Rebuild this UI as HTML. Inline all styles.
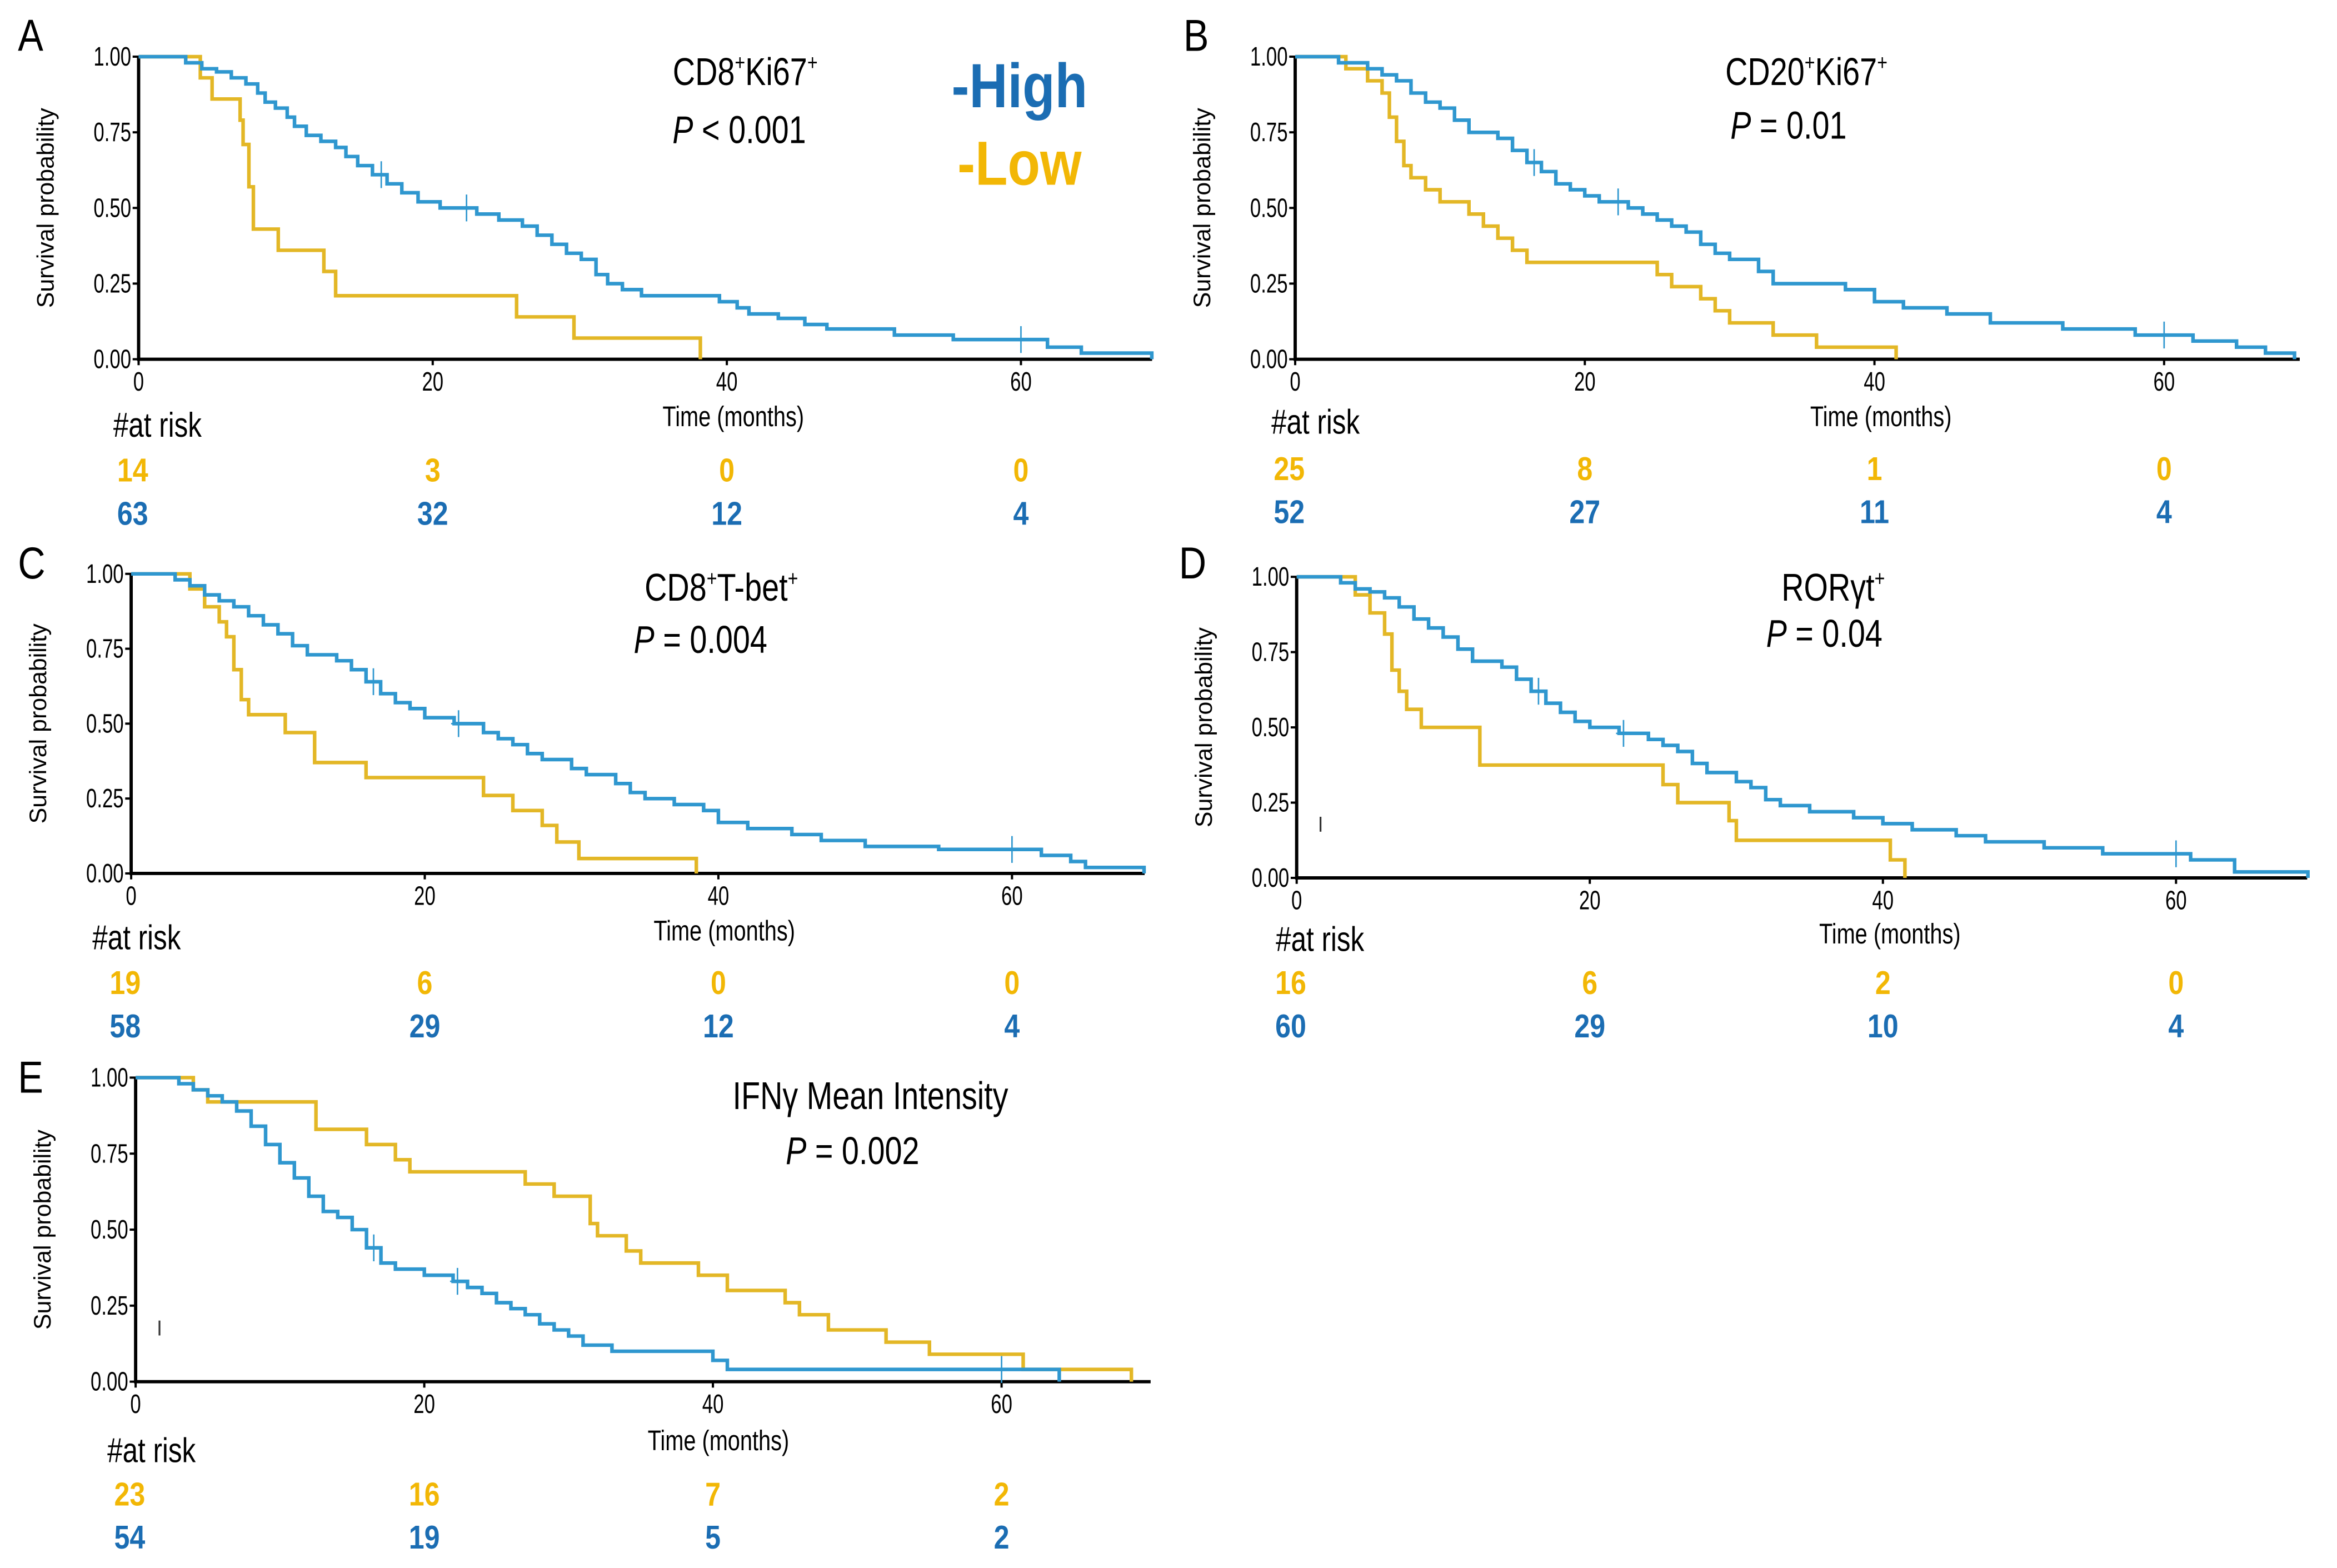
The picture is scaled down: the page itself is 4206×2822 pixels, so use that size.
<!DOCTYPE html>
<html><head><meta charset="utf-8"><style>
html,body{margin:0;padding:0;background:#fff;}
svg{display:block;}
text{font-family:"Liberation Sans Narrow","Liberation Sans",sans-serif;}
</style></head><body>
<svg id="fig" width="4206" height="2822" viewBox="0 0 1568 1052" xmlns="http://www.w3.org/2000/svg"></svg>
<script>
const BLUE='#2f97cf', YEL='#e3b726', BT='#1b6db3', YT='#f2b705';
// Panel A data
const aHighT=[3.2,4.3,5.3,6.3,7.3,8.1,8.6,9.3,10.1,10.6,11.4,12.4,13.4,14.1,14.9,15.9,16.9,17.9,19.0,20.5,23.0,24.5,26.1,27.1,28.1,29.1,30.1,31.1,31.9,32.9,34.2,39.5,40.7,41.5,43.5,45.3,46.8,51.4,55.4,61.8,64.1,68.9];
const aHighS=[0.98,0.96,0.95,0.93,0.91,0.88,0.85,0.83,0.80,0.77,0.74,0.72,0.70,0.67,0.64,0.61,0.58,0.55,0.52,0.50,0.48,0.46,0.44,0.41,0.38,0.35,0.33,0.28,0.25,0.23,0.21,0.19,0.17,0.15,0.135,0.115,0.10,0.08,0.065,0.04,0.02,0];
const aLowT=[4.2,5.0,6.9,7.1,7.5,7.8,9.5,12.6,13.4,25.7,29.6,38.2];
const aLowS=[0.93,0.86,0.79,0.71,0.57,0.43,0.36,0.29,0.21,0.14,0.07,0];
// Panel B data
const bHighT=[3,5,6,7,8,9,10,11,12,14,15,16,17,18,19,20,21,23,24,25,26,27,28,29,30,32,33,38,40,42,45,48,53,58,62,65,67,69];
const bHighS=[0.98,0.96,0.94,0.92,0.88,0.85,0.83,0.79,0.75,0.73,0.69,0.65,0.62,0.58,0.56,0.54,0.52,0.50,0.48,0.46,0.44,0.42,0.38,0.35,0.33,0.29,0.25,0.23,0.19,0.17,0.15,0.12,0.10,0.08,0.06,0.04,0.02,0];
const bLowT=[3.5,5,6,6.5,7,7.5,8,9,10,12,13,14,15,16,25,26,28,29,30,33,36,41.5];
const bLowS=[0.96,0.92,0.88,0.80,0.72,0.64,0.60,0.56,0.52,0.48,0.44,0.40,0.36,0.32,0.28,0.24,0.20,0.16,0.12,0.08,0.04,0];
// Panel C data
const cHighT=[3,4,5,6,7,8,9,10,11,12,14,15,16,17,18,19,20,22,24,25,26,27,28,30,31,33,34,35,37,39,40,42,45,47,50,55,62,64,65,69];
const cHighS=[0.98,0.96,0.93,0.91,0.89,0.86,0.83,0.80,0.76,0.73,0.71,0.68,0.64,0.60,0.57,0.55,0.52,0.50,0.47,0.45,0.43,0.40,0.38,0.35,0.33,0.30,0.27,0.25,0.23,0.21,0.17,0.15,0.13,0.11,0.09,0.08,0.06,0.04,0.02,0];
const cLowT=[4,5,6,6.5,7,7.5,8,10.5,12.5,16,24,26,28,29,30.5,38.5];
const cLowS=[0.95,0.89,0.84,0.79,0.68,0.58,0.53,0.47,0.37,0.32,0.26,0.21,0.16,0.105,0.05,0];
// Panel D data
const dHighT=[3,4,5,6,7,8,9,10,11,12,14,15,16,17,18,19,20,22,24,25,26,27,28,30,31,32,33,35,38,40,42,45,47,51,55,61,64,69];
const dHighS=[0.98,0.96,0.95,0.93,0.90,0.86,0.83,0.80,0.76,0.72,0.70,0.66,0.62,0.58,0.55,0.52,0.50,0.48,0.46,0.44,0.42,0.38,0.35,0.32,0.30,0.26,0.24,0.22,0.20,0.18,0.16,0.14,0.12,0.10,0.08,0.06,0.02,0];
const dLowT=[4,5,6,6.5,7,7.5,8.5,12.5,25,26,29.5,30,40.5,41.5];
const dLowS=[0.94,0.88,0.81,0.69,0.62,0.56,0.50,0.375,0.31,0.25,0.19,0.125,0.06,0];
// Panel E data
const eHighT=[3,4,5,6,7,8,9,10,11,12,13,14,15,16,17,18,20,22,23,24,25,26,27,28,29,30,31,33,40,41,64];
const eHighS=[0.98,0.96,0.94,0.92,0.89,0.84,0.78,0.72,0.67,0.61,0.56,0.54,0.50,0.44,0.39,0.37,0.35,0.33,0.31,0.29,0.26,0.24,0.22,0.19,0.17,0.15,0.12,0.10,0.07,0.04,0];
const eLowT=[4,5,12.5,16,18,19,27,29,31.5,32,34,35,39,41,45,46,48,52,55,61.5,69];
const eLowS=[0.96,0.92,0.83,0.78,0.73,0.69,0.65,0.61,0.52,0.48,0.43,0.39,0.35,0.30,0.26,0.22,0.17,0.13,0.09,0.04,0];
const censorT=[16.5,22.3,60];
const xTicks=[0,20,40,60];
const yTicks=[0,0.25,0.5,0.75,1];
const yTickLabels=['0.00','0.25','0.50','0.75','1.00'];

const svg=document.getElementById('fig');
const NS='http://www.w3.org/2000/svg';
function mk(tag,attrs,parent){const e=document.createElementNS(NS,tag);for(const k in attrs)e.setAttribute(k,attrs[k]);(parent||svg).appendChild(e);return e;}
// condensed text: placed via transform with horizontal squeeze
function txt(x,y,s,size,opts,parent,sx){
  const o=Object.assign({x:0,y:0,'font-size':size,transform:'translate('+x+','+y+') scale('+(sx||0.8)+',1)'},opts||{});
  const t=mk('text',o,parent);t.textContent=s;return t;}

const panels=[
 {id:'a',L:'A',lx:12,ly:34,x0:93,x60:685,xe:773,y1:38,y0:241,title:'CD8',t2:'Ki67',tx:500,ty:57,p:' < 0.001',px:496,py:96,tmx:492,tmy:286,rx:76,ry:293,r1:323,r2:352,hi:[aHighT,aHighS],lo:[aLowT,aLowS],rl:['14','3','0','0'],rh:['63','32','12','4']},
 {id:'b',L:'B',lx:794,ly:34,x0:869,x60:1452,xe:1543,y1:38,y0:241,title:'CD20',t2:'Ki67',tx:1212,ty:57,p:' = 0.01',px:1200,py:93,tmx:1262,tmy:286,rx:853,ry:291,r1:322,r2:351,hi:[bHighT,bHighS],lo:[bLowT,bLowS],rl:['25','8','1','0'],rh:['52','27','11','4']},
 {id:'c',L:'C',lx:12,ly:388,x0:88,x60:679,xe:768,y1:385,y0:586,title:'CD8',t2:'T-bet',tx:484,ty:403,p:' = 0.004',px:470,py:438,tmx:486,tmy:631,rx:62,ry:637,r1:667,r2:696,hi:[cHighT,cHighS],lo:[cLowT,cLowS],rl:['19','6','0','0'],rh:['58','29','12','4']},
 {id:'d',L:'D',lx:791,ly:388,x0:870,x60:1460,xe:1548,y1:387,y0:589,title:'ROR\u03B3t',t2:'',tx:1230,ty:403,p:' = 0.04',px:1224,py:434,tmx:1268,tmy:633,rx:856,ry:638,r1:667,r2:696,hi:[dHighT,dHighS],lo:[dLowT,dLowS],rl:['16','6','2','0'],rh:['60','29','10','4'],mark:[886,553]},
 {id:'e',L:'E',lx:12,ly:733,x0:91,x60:672,xe:772,y1:723,y0:927,title:'IFN\u03B3 Mean Intensity',t2:null,tx:584,ty:744,p:' = 0.002',px:572,py:781,tmx:482,tmy:973,rx:72,ry:981,r1:1010,r2:1039,hi:[eHighT,eHighS],lo:[eLowT,eLowS],rl:['23','16','7','2'],rh:['54','19','5','2'],mark:[107,891]}
];

function stepPath(xs,ys,T,S,end){
  let d='M'+xs(0)+','+ys(1); let prev=1;
  for(let i=0;i<T.length;i++){d+=' H'+xs(T[i]).toFixed(1)+' V'+ys(S[i]).toFixed(1);prev=S[i];}
  if(prev>0) d+=' H'+xs(end).toFixed(1);
  return d;
}
function survAt(T,S,t){let s=1;for(let i=0;i<T.length;i++){if(T[i]<=t)s=S[i];}return s;}

panels.forEach(P=>{
  const g=mk('g',{});
  
  
  const xs=t=>P.x0+(P.x60-P.x0)*t/60;
  const ys=s=>P.y0-(P.y0-P.y1)*s;
  const lab=txt(P.lx,P.ly,P.L,30,{},g,0.85);
  
  
  const ax=mk('path',{d:'M'+P.x0+','+P.y1+' V'+P.y0+' H'+P.xe,stroke:'#000','stroke-width':2.2,fill:'none'},g);
  
  
  yTicks.forEach((v,i)=>{
    mk('line',{x1:P.x0-4,x2:P.x0,y1:ys(v),y2:ys(v),stroke:'#000','stroke-width':1.5},g);
    const t=txt(P.x0-5,ys(v)+6,yTickLabels[i],18,{'text-anchor':'end'},g,0.72);
    
    
  });
  xTicks.forEach(v=>{
    mk('line',{x1:xs(v),x2:xs(v),y1:P.y0,y2:P.y0+4,stroke:'#000','stroke-width':1.5},g);
    const t=txt(xs(v),P.y0+21,String(v),18,{'text-anchor':'middle'},g,0.72);
    
    
  });
  const yt=mk('text',{x:0,y:0,'font-size':16,'text-anchor':'middle',transform:'translate('+(P.x0-57)+','+((P.y0+P.y1)/2)+') rotate(-90)'},g);
  yt.textContent='Survival probability';
  
  
  const xt=txt(P.tmx,P.tmy,'Time (months)',19,{'text-anchor':'middle'},g,0.78);
  
  
  const lo=mk('path',{d:stepPath(xs,ys,P.lo[0],P.lo[1],69),stroke:YEL,'stroke-width':2.4,fill:'none'},g);
  
  
  const hi=mk('path',{d:stepPath(xs,ys,P.hi[0],P.hi[1],69),stroke:BLUE,'stroke-width':2.4,fill:'none'},g);
  
  
  censorT.forEach(c=>{
    const s=survAt(P.hi[0],P.hi[1],c);
    const m=mk('line',{x1:xs(c),x2:xs(c),y1:ys(s)-9,y2:ys(s)+9,stroke:BLUE,'stroke-width':1},g);
    
    
    mk('line',{x1:xs(c)-5,x2:xs(c)+5,y1:ys(s),y2:ys(s),stroke:BLUE,'stroke-width':1},g);
  });
  if(P.mark){mk('line',{x1:P.mark[0],x2:P.mark[0],y1:P.mark[1]-5,y2:P.mark[1]+5,stroke:'#333','stroke-width':1.2},g);}
  const tt=txt(P.tx,P.ty,'',26,{'text-anchor':'middle'},g,0.8);
  
  
  if(P.t2===null){tt.textContent=P.title;}
  else{
    const a=mk('tspan',{},tt);a.textContent=P.title;
    const b=mk('tspan',{dy:-10,'font-size':15},tt);b.textContent='+';
    if(P.t2){const c=mk('tspan',{dy:10},tt);c.textContent=P.t2;
      const d=mk('tspan',{dy:-10,'font-size':15},tt);d.textContent='+';}
  }
  const pt=txt(P.px,P.py,'',26,{'text-anchor':'middle'},g,0.8);
  
  
  const pi=mk('tspan',{'font-style':'italic'},pt);pi.textContent='P';
  const pr=mk('tspan',{},pt);pr.textContent=P.p;
  const rt=txt(P.rx,P.ry,'#at risk',23,{},g,0.8);
  
  
  xTicks.forEach((v,i)=>{
    const x=i===0?xs(v)-4:xs(v);
    const a=txt(x,P.r1,P.rl[i],22,{'text-anchor':'middle','font-weight':'bold',fill:YT},g,0.85);
    
    
    const b=txt(x,P.r2,P.rh[i],22,{'text-anchor':'middle','font-weight':'bold',fill:BT},g,0.85);
    
    
  });
});
const lh=txt(684,72,'-High',42,{'text-anchor':'middle','font-weight':'bold',fill:'#1b6db3'},null,0.85);


const ll=txt(684,124,'-Low',42,{'text-anchor':'middle','font-weight':'bold',fill:'#f2b705'},null,0.85);


</script>
</body></html>
